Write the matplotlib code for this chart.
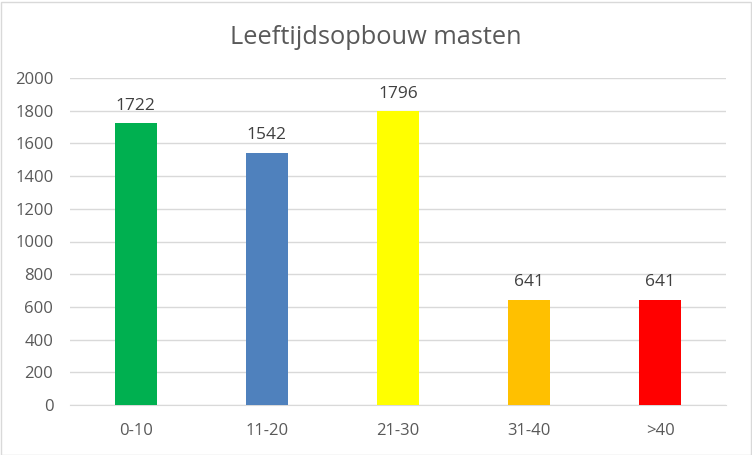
import matplotlib.pyplot as plt
from matplotlib.patches import Rectangle

# ================> Data
categories = ["0-10", "11-20", "21-30", "31-40", ">40"]
values = [1722, 1542, 1796, 641, 641]
colors = ["#00B050", "#4F81BD", "#FFFF00", "#FFC000", "#FF0000"]
y_ticks = list(range(0, 2001, 200))

plt.rcParams['font.family'] = ['Open Sans', 'DejaVu Sans']
text_color = "#595959"

fig = plt.figure(figsize=(7.52, 4.55), dpi=100)
ax = fig.add_axes([70 / 752, 1 - 405 / 455, 656 / 752, 327 / 455])

x = range(len(categories))
bars = ax.bar(x, values, width=0.32, color=colors, zorder=3)
for bar, v in zip(bars, values):
    ax.annotate(str(v), (bar.get_x() + bar.get_width() / 2, v),
                xytext=(0, 7), textcoords="offset points",
                ha="center", va="bottom", fontsize=12.5, color="#404040")

ax.set_xlim(-0.5, len(categories) - 0.5)
ax.set_ylim(0, 2000)
ax.set_yticks(y_ticks)
ax.set_xticks(list(x))
ax.set_xticklabels(categories)
ax.tick_params(axis="both", length=0, labelsize=12, colors=text_color)
ax.tick_params(axis="y", pad=12)
ax.tick_params(axis="x", pad=13)
ax.yaxis.grid(True, color="#D9D9D9", linewidth=1, zorder=0)
for side in ["top", "right", "left"]:
    ax.spines[side].set_visible(False)
ax.spines["bottom"].set_color("#D9D9D9")

fig.suptitle("Leeftijdsopbouw masten", y=1 - 38 / 455, va="center",
             fontsize=18.3, color=text_color)

fig.patches.append(Rectangle((0.5 / 752, 0.5 / 455), 750 / 752, 453 / 455,
                             transform=fig.transFigure, fill=False,
                             edgecolor="#D9D9D9", linewidth=1))

fig.savefig("out.png", dpi=100)
